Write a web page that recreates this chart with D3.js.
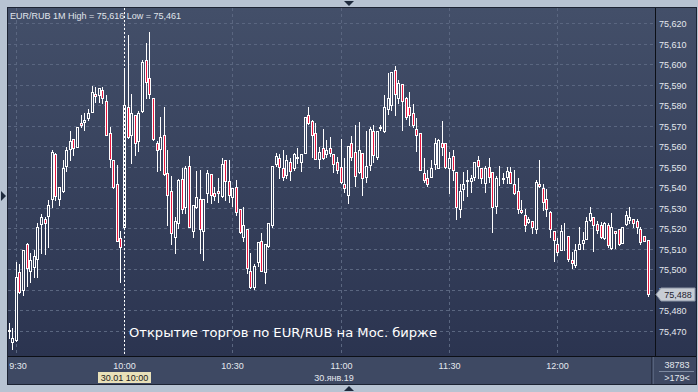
<!DOCTYPE html>
<html><head><meta charset="utf-8">
<script src="https://cdn.jsdelivr.net/npm/d3@7"></script>
<style>html,body{margin:0;padding:0;background:#b7c3d2;overflow:hidden}svg{display:block}</style>
</head><body><svg id="c" width="698" height="392"></svg>
<script>
// ---- data (EUR/RUB, 1-minute candles, 30.01.2019) ----
const startTime = "2019-01-30 09:28";
const openP = [75.4699,75.4647,75.4655,75.4987,75.4899,75.5123,75.4993,75.5013,75.5052,75.5221,
75.5244,75.5260,75.5341,75.5561,75.5341,75.5382,75.5504,75.5588,75.5634,75.5598,
75.5714,75.5719,75.5740,75.5769,75.5857,75.5852,75.5875,75.5821,75.5663,75.5533,
75.5416,75.5151,75.5205,75.5790,75.5654,75.5751,75.5624,75.5771,75.6020,75.5932,
75.5834,75.5615,75.5588,75.5654,75.5471,75.5380,75.5159,75.5224,75.5442,75.5302,
75.5504,75.5185,75.5302,75.5341,75.5185,75.5371,75.5465,75.5371,75.5380,75.5358,
75.5532,75.5432,75.5351,75.5403,75.5293,75.5159,75.5195,75.4993,75.4915,75.5036,
75.5140,75.4987,75.5114,75.5215,75.5514,75.5541,75.5493,75.5460,75.5522,75.5493,
75.5541,75.5525,75.5569,75.5751,75.5722,75.5663,75.5540,75.5590,75.5562,75.5590,
75.5561,75.5523,75.5500,75.5415,75.5361,75.5615,75.5572,75.5475,75.5569,75.5452,
75.5509,75.5676,75.5549,75.5689,75.5676,75.5780,75.5801,75.5972,75.5834,75.5904,
75.5834,75.5790,75.5761,75.5683,75.5663,75.5471,75.5444,75.5452,75.5514,75.5494,
75.5615,75.5615,75.5493,75.5553,75.5476,75.5293,75.5393,75.5432,75.5432,75.5452,
75.5533,75.5493,75.5422,75.5500,75.5475,75.5309,75.5449,75.5439,75.5452,75.5476,
75.5416,75.5383,75.5289,75.5263,75.5232,75.5237,75.5195,75.5416,75.5395,75.5341,
75.5281,75.5187,75.5122,75.5094,75.5175,75.5162,75.5045,75.5021,75.5100,75.5130,
75.5149,75.5240,75.5254,75.5221,75.5215,75.5151,75.5215,75.5102,75.5188,75.5195,
75.5130,75.5221,75.5240,75.5244,75.5236,75.5195,75.5162,75.5143];
const highP = [75.4738,75.4714,75.5037,75.5026,75.5094,75.5126,75.5081,75.5094,75.5224,75.5270,
75.5257,75.5338,75.5582,75.5569,75.5403,75.5533,75.5595,75.5676,75.5636,75.5694,
75.5753,75.5761,75.5782,75.5894,75.5891,75.5884,75.5888,75.5850,75.5696,75.5533,
75.5509,75.5188,75.5980,75.6143,75.5855,75.5753,75.5774,75.6021,75.6105,75.6160,
75.5836,75.5627,75.5744,75.5790,75.5582,75.5455,75.5254,75.5439,75.5493,75.5504,
75.5553,75.5314,75.5481,75.5484,75.5343,75.5484,75.5465,75.5403,75.5444,75.5541,
75.5533,75.5533,75.5397,75.5436,75.5294,75.5305,75.5197,75.5081,75.5026,75.5133,
75.5176,75.5123,75.5226,75.5504,75.5566,75.5561,75.5582,75.5558,75.5541,75.5569,
75.5590,75.5562,75.5743,75.5793,75.5728,75.5715,75.5598,75.5683,75.5631,75.5644,
75.5562,75.5549,75.5634,75.5541,75.5601,75.5650,75.5704,75.5720,75.5569,75.5676,
75.5696,75.5704,75.5677,75.5704,75.5850,75.5956,75.5962,75.5992,75.5923,75.5904,
75.5842,75.5863,75.5806,75.5737,75.5665,75.5541,75.5484,75.5533,75.5639,75.5636,
75.5725,75.5616,75.5574,75.5582,75.5477,75.5416,75.5476,75.5484,75.5460,75.5523,
75.5553,75.5494,75.5504,75.5543,75.5475,75.5455,75.5504,75.5468,75.5500,75.5500,
75.5484,75.5444,75.5338,75.5293,75.5257,75.5238,75.5436,75.5533,75.5416,75.5390,
75.5282,75.5187,75.5151,75.5216,75.5224,75.5162,75.5086,75.5122,75.5208,75.5183,
75.5257,75.5302,75.5255,75.5237,75.5232,75.5231,75.5227,75.5273,75.5189,75.5197,
75.5206,75.5283,75.5302,75.5245,75.5243,75.5208,75.5162,75.5143];
const lowP = [75.4665,75.4610,75.4650,75.4883,75.4875,75.4919,75.4940,75.4964,75.4964,75.5081,
75.5073,75.5110,75.5305,75.5338,75.5312,75.5379,75.5480,75.5533,75.5558,75.5595,
75.5696,75.5680,75.5728,75.5767,75.5818,75.5818,75.5810,75.5654,75.5500,75.5395,
75.5138,75.4940,75.5201,75.5640,75.5520,75.5558,75.5579,75.5767,75.5834,75.5834,
75.5633,75.5481,75.5484,75.5462,75.5215,75.5123,75.5081,75.5203,75.5273,75.5273,
75.5204,75.5159,75.5299,75.5081,75.5045,75.5330,75.5322,75.5338,75.5330,75.5355,
75.5338,75.5330,75.5309,75.5265,75.5176,75.5140,75.4983,75.4909,75.4905,75.5016,
75.4992,75.4932,75.5110,75.5208,75.5504,75.5444,75.5436,75.5444,75.5436,75.5484,
75.5517,75.5481,75.5567,75.5709,75.5549,75.5536,75.5493,75.5537,75.5549,75.5553,
75.5476,75.5468,75.5423,75.5379,75.5322,75.5533,75.5406,75.5468,75.5361,75.5427,
75.5484,75.5525,75.5537,75.5680,75.5671,75.5758,75.5777,75.5753,75.5810,75.5680,
75.5732,75.5704,75.5696,75.5579,75.5482,75.5427,75.5406,75.5449,75.5488,75.5492,
75.5558,75.5493,75.5371,75.5436,75.5244,75.5254,75.5338,75.5358,75.5379,75.5436,
75.5444,75.5420,75.5379,75.5427,75.5183,75.5273,75.5411,75.5420,75.5422,75.5420,
75.5367,75.5276,75.5273,75.5188,75.5224,75.5176,75.5179,75.5400,75.5289,75.5260,
75.5159,75.5042,75.5070,75.5092,75.5094,75.5040,75.5005,75.5013,75.5099,75.5100,
75.5146,75.5237,75.5091,75.5176,75.5151,75.5148,75.5110,75.5101,75.5102,75.5119,
75.5128,75.5216,75.5224,75.5205,75.5176,75.5123,75.5138,75.4870];
const closeP = [75.4704,75.4666,75.4964,75.4891,75.5094,75.5005,75.5045,75.5065,75.5205,75.5254,
75.5224,75.5312,75.5572,75.5359,75.5403,75.5494,75.5582,75.5627,75.5590,75.5693,
75.5702,75.5730,75.5764,75.5863,75.5845,75.5883,75.5834,75.5654,75.5540,75.5403,
75.5140,75.5110,75.5800,75.5644,75.5761,75.5615,75.5761,75.6011,75.5912,75.5855,
75.5634,75.5582,75.5644,75.5463,75.5361,75.5176,75.5234,75.5436,75.5293,75.5494,
75.5205,75.5312,75.5351,75.5195,75.5341,75.5471,75.5361,75.5359,75.5371,75.5512,
75.5432,75.5362,75.5395,75.5281,75.5183,75.5215,75.5005,75.4912,75.5016,75.5133,
75.4993,75.5123,75.5224,75.5504,75.5553,75.5500,75.5452,75.5533,75.5481,75.5561,
75.5549,75.5561,75.5741,75.5712,75.5655,75.5537,75.5572,75.5541,75.5582,75.5569,
75.5514,75.5484,75.5424,75.5395,75.5601,75.5549,75.5455,75.5582,75.5444,75.5504,
75.5684,75.5558,75.5676,75.5696,75.5793,75.5834,75.5961,75.5855,75.5910,75.5822,
75.5741,75.5753,75.5704,75.5654,75.5484,75.5436,75.5416,75.5493,75.5615,75.5631,
75.5598,75.5500,75.5541,75.5484,75.5302,75.5383,75.5416,75.5436,75.5444,75.5523,
75.5504,75.5444,75.5493,75.5452,75.5302,75.5444,75.5452,75.5444,75.5481,75.5422,
75.5371,75.5293,75.5281,75.5216,75.5244,75.5208,75.5427,75.5406,75.5330,75.5293,
75.5195,75.5143,75.5086,75.5187,75.5177,75.5049,75.5032,75.5094,75.5122,75.5143,
75.5237,75.5273,75.5216,75.5192,75.5159,75.5224,75.5119,75.5205,75.5176,75.5123,
75.5205,75.5263,75.5254,75.5224,75.5205,75.5135,75.5140,75.4880];
const priceTicks = [75.470,75.480,75.490,75.500,75.510,75.520,75.530,75.540,75.550,75.560,75.570,75.580,75.590,75.600,75.610,75.620];
const titleText = "EUR/RUB 1M";
const noteText = "Открытие торгов по EUR/RUB на Мос. бирже";
const dateText = "30.янв.19";
const cursorText = "30.01 10:00";
const counterTop = "38783", counterBottom = ">179<";

// ---- layout ----
const W = 698, H = 392, L = 8, T = 8, R = 655, B = 357, FR = 696, FB = 384;
const svg = d3.select("#c");
const fmtNum = d3.formatLocale({decimal: ",", thousands: " ", grouping: [3], currency: ["", ""]}).format(".3f");
const parse = d3.timeParse("%Y-%m-%d %H:%M");
const t0 = parse(startTime);
const data = openP.map((o, i) => ({t: d3.timeMinute.offset(t0, i), o, h: highP[i], l: lowP[i], c: closeP[i]}));
const N = data.length;

const x = d3.scaleTime().domain([data[0].t, data[N - 1].t]).range([9, 648]);
const y = d3.scaleLinear().domain([75.470, 75.620]).range([330.8, 23.3]);
const px = v => Math.floor(x(v));

const defs = svg.append("defs");
const grad = defs.append("linearGradient").attr("id", "bg").attr("gradientUnits", "userSpaceOnUse")
  .attr("x1", 0).attr("y1", T).attr("x2", 0).attr("y2", B);
grad.append("stop").attr("offset", 0).attr("stop-color", "#434f69");
grad.append("stop").attr("offset", 1).attr("stop-color", "#2b3450");
defs.append("clipPath").attr("id", "plotclip").append("rect").attr("x", L).attr("y", T).attr("width", R - L).attr("height", B - T);

svg.append("rect").attr("width", W).attr("height", H).attr("fill", "#b7c3d2");
svg.append("rect").attr("x", L).attr("y", T).attr("width", FR - L).attr("height", B - T).attr("fill", "url(#bg)");
svg.append("rect").attr("x", L).attr("y", B).attr("width", FR - L).attr("height", FB - B).attr("fill", "#3e4963");

// gridlines
const grid = svg.append("g").attr("stroke", "#5a6680").attr("stroke-width", 1).attr("stroke-dasharray", "3,3");
grid.selectAll("line.h").data(priceTicks).join("line").attr("class", "h")
  .attr("x1", L).attr("x2", R).attr("y1", d => Math.round(y(d)) + 0.5).attr("y2", d => Math.round(y(d)) + 0.5);
const timeTicks = x.ticks(d3.timeMinute.every(30));
grid.selectAll("line.v").data(timeTicks).join("line").attr("class", "v")
  .attr("y1", T).attr("y2", B).attr("x1", d => px(d) + 0.5).attr("x2", d => px(d) + 0.5);

// candles
const cg = svg.append("g").attr("clip-path", "url(#plotclip)");
cg.selectAll("line.wick").data(data).join("line").attr("class", "wick")
  .attr("x1", d => px(d.t) + 0.5).attr("x2", d => px(d.t) + 0.5)
  .attr("y1", d => Math.round(y(d.h))).attr("y2", d => Math.round(y(d.l)) + 1)
  .attr("stroke", "#ffffff").attr("stroke-width", 1);
cg.selectAll("rect.body").data(data).join("rect").attr("class", "body")
  .attr("x", d => px(d.t) - 0.5).attr("width", 2)
  .attr("y", d => Math.round(y(Math.max(d.o, d.c))) + 0.5)
  .attr("height", d => Math.max(0, Math.round(y(Math.min(d.o, d.c))) - Math.round(y(Math.max(d.o, d.c)))))
  .attr("fill", d => d.c < d.o ? "#e8173e" : "url(#bg)")
  .attr("stroke", "#ffffff").attr("stroke-width", 1);

// crosshair at 10:00
const cursorT = d3.timeMinute.offset(t0, 32);
svg.append("line").attr("x1", px(cursorT) + 0.5).attr("x2", px(cursorT) + 0.5).attr("y1", T).attr("y2", B)
  .attr("stroke", "#ffffff").attr("stroke-dasharray", "2,2");

// frame lines
svg.append("line").attr("x1", R + 0.5).attr("x2", R + 0.5).attr("y1", T).attr("y2", B).attr("stroke", "#0c0f16");
svg.append("line").attr("x1", L).attr("x2", FR).attr("y1", B - 0.5).attr("y2", B - 0.5).attr("stroke", "#0c0f16");
svg.append("line").attr("x1", 651.5).attr("x2", 651.5).attr("y1", B).attr("y2", FB).attr("stroke", "#2a3247");
svg.append("line").attr("x1", 653.5).attr("x2", 653.5).attr("y1", B).attr("y2", FB).attr("stroke", "#56627b");
svg.append("rect").attr("x", L - 0.5).attr("y", T - 0.5).attr("width", FR - L + 1).attr("height", FB - T + 1)
  .attr("fill", "none").attr("stroke", "#1c2333");

const font = "'Liberation Sans', Arial, sans-serif";
// price axis labels
svg.append("g").selectAll("text").data(priceTicks).join("text")
  .attr("x", 659).attr("y", d => Math.round(y(d)) + 3.5)
  .attr("font-family", font).attr("font-size", 9).attr("fill", "#e4e8ee")
  .text(d => fmtNum(d));

// current price tag
const last = data[N - 1].c;
const ly = Math.round(y(last)) + 0.5;
svg.append("path").attr("d", `M656,${ly} L661,${ly - 6.5} L695,${ly - 6.5} L695,${ly + 6.5} L661,${ly + 6.5} Z`)
  .attr("fill", "#c8cdd5").attr("stroke", "#8c95a6");
svg.append("text").attr("x", 678).attr("y", ly + 3.5).attr("text-anchor", "middle")
  .attr("font-family", font).attr("font-size", 9).attr("fill", "#1e2230").text(fmtNum(last));

// title
const hi = d3.max(data, d => d.h), lo = d3.min(data, d => d.l);
svg.append("text").attr("x", 10).attr("y", 18.5).attr("font-family", font).attr("font-size", 9).attr("fill", "#e0e5ec")
  .text(`${titleText} High = ${fmtNum(hi)} Low = ${fmtNum(lo)}`);

// annotation
svg.append("text").attr("x", 129).attr("y", 337).attr("font-family", "'DejaVu Sans Condensed', 'DejaVu Sans', sans-serif")
  .attr("font-size", 13).attr("fill", "#ffffff").attr("textLength", 308).attr("lengthAdjust", "spacingAndGlyphs")
  .text(noteText);

// time axis labels
const tf = d3.timeFormat("%-H:%M");
svg.append("g").selectAll("text").data(timeTicks).join("text")
  .attr("x", (d, i) => i === 0 ? Math.max(px(d), 18) : px(d) + 0.5).attr("y", 368.5).attr("text-anchor", "middle")
  .attr("font-family", font).attr("font-size", 9).attr("fill", "#e4e8ee").text(d => tf(d));
svg.append("rect").attr("x", 98).attr("y", 372).attr("width", 53).attr("height", 11).attr("fill", "#e9e1b9");
svg.append("text").attr("x", px(cursorT) + 0.5).attr("y", 381).attr("text-anchor", "middle")
  .attr("font-family", font).attr("font-size", 9).attr("fill", "#1b1b1b").text(cursorText);
svg.append("text").attr("x", 334).attr("y", 381).attr("text-anchor", "middle")
  .attr("font-family", font).attr("font-size", 9).attr("fill", "#e4e8ee").text(dateText);

// counter box
svg.append("text").attr("x", 677).attr("y", 368).attr("text-anchor", "middle")
  .attr("font-family", font).attr("font-size", 9).attr("fill", "#e4e8ee").text(counterTop);
svg.append("line").attr("x1", 659).attr("x2", 694).attr("y1", 371.5).attr("y2", 371.5).attr("stroke", "#7d89a0");
svg.append("text").attr("x", 677).attr("y", 381).attr("text-anchor", "middle")
  .attr("font-family", font).attr("font-size", 9).attr("fill", "#e4e8ee").text(counterBottom);

// window-edge markers
svg.append("path").attr("d", "M344,1 L354,1 L349,6 Z").attr("fill", "#1e2a3d");
svg.append("path").attr("d", "M344,391 L354,391 L349,386 Z").attr("fill", "#1e2a3d");
svg.append("path").attr("d", "M1,191 L1,201 L6,196 Z").attr("fill", "#1e2a3d");
</script></body></html>
